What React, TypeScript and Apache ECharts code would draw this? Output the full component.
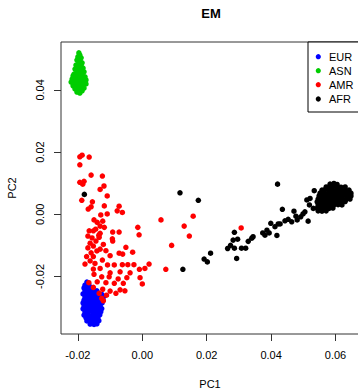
import React, { useEffect, useRef } from "react";
import * as echarts from "echarts";

const FONT = "'Liberation Sans', Arial, Helvetica, sans-serif";

const title = "EM";
const xName = "PC1";
const yName = "PC2";
const groups = ["EUR", "ASN", "AMR", "AFR"];
const colors = ["#0000FF", "#00CD00", "#FF0000", "#000000"];
const xTicks = [-0.02, 0, 0.02, 0.04, 0.06];
const yTicks = [-0.02, 0, 0.02, 0.04];

const eur: number[][] = [
  [-0.0172, -0.0218], [-0.0178, -0.0228], [-0.0166, -0.0226], [-0.0181, -0.0237], [-0.0169, -0.0238], [-0.0157, -0.0236],
  [-0.0178, -0.0247], [-0.0166, -0.0246], [-0.0153, -0.0248], [-0.0141, -0.0246], [-0.0184, -0.0256], [-0.0172, -0.0257],
  [-0.016, -0.0255], [-0.0147, -0.0257], [-0.0135, -0.0256], [-0.0125, -0.0258], [-0.0178, -0.0266], [-0.0166, -0.0267],
  [-0.0153, -0.0265], [-0.0141, -0.0266], [-0.0128, -0.0267], [-0.012, -0.0265], [-0.0181, -0.0276], [-0.0169, -0.0275],
  [-0.0156, -0.0277], [-0.0144, -0.0276], [-0.0131, -0.0275], [-0.0122, -0.0277], [-0.0184, -0.0285], [-0.0175, -0.0286],
  [-0.0162, -0.0285], [-0.015, -0.0284], [-0.0138, -0.0286], [-0.0125, -0.0285], [-0.0181, -0.0295], [-0.0169, -0.0294],
  [-0.0156, -0.0296], [-0.0144, -0.0295], [-0.0131, -0.0294], [-0.0184, -0.0304], [-0.0172, -0.0305], [-0.0159, -0.0303],
  [-0.0147, -0.0305], [-0.0135, -0.0304], [-0.0126, -0.0303], [-0.0178, -0.0314], [-0.0166, -0.0313], [-0.0153, -0.0315],
  [-0.0141, -0.0314], [-0.0129, -0.0313], [-0.0181, -0.0324], [-0.0169, -0.0323], [-0.0156, -0.0325], [-0.0144, -0.0324],
  [-0.0132, -0.0323], [-0.0175, -0.0333], [-0.0162, -0.0334], [-0.015, -0.0332], [-0.0138, -0.0333], [-0.0172, -0.0343],
  [-0.0159, -0.0342], [-0.0147, -0.0344], [-0.0135, -0.0342], [-0.0162, -0.0353], [-0.015, -0.0354], [-0.0141, -0.0352],
];

const asn: number[][] = [
  [-0.0197, 0.0519], [-0.0194, 0.0512], [-0.02, 0.0506], [-0.019, 0.0503], [-0.0203, 0.0496], [-0.0194, 0.0493],
  [-0.0197, 0.0487], [-0.0187, 0.0487], [-0.0206, 0.048], [-0.02, 0.0477], [-0.019, 0.0477], [-0.0184, 0.047],
  [-0.0209, 0.0467], [-0.0197, 0.0467], [-0.0203, 0.0461], [-0.0194, 0.0458], [-0.0181, 0.0458], [-0.0212, 0.0451],
  [-0.02, 0.0448], [-0.0187, 0.0448], [-0.0206, 0.0442], [-0.0194, 0.0438], [-0.0178, 0.0442], [-0.0218, 0.0435],
  [-0.0212, 0.0432], [-0.02, 0.0429], [-0.0187, 0.0432], [-0.0175, 0.0432], [-0.0221, 0.0425], [-0.0209, 0.0419],
  [-0.0197, 0.0422], [-0.0184, 0.0419], [-0.0175, 0.0419], [-0.0215, 0.0413], [-0.0203, 0.0409], [-0.019, 0.0409],
  [-0.0181, 0.0406], [-0.0209, 0.0403], [-0.0197, 0.04], [-0.0187, 0.0397], [-0.0203, 0.0393], [-0.0194, 0.039],
  [-0.0206, 0.0406], [-0.0184, 0.0438], [-0.0197, 0.0416], [-0.019, 0.0464], [-0.0203, 0.0474], [-0.0215, 0.0445],
  [-0.0181, 0.0425], [-0.0206, 0.0425], [-0.0192, 0.0451], [-0.02, 0.0455], [-0.0212, 0.0425], [-0.019, 0.0416],
];

const amr: number[][] = [
  [-0.0194, 0.0185], [-0.0187, 0.019], [-0.0165, 0.0184], [-0.0194, 0.0159], [-0.0159, 0.0126], [-0.0124, 0.0123],
  [-0.0194, 0.0103], [-0.0181, 0.0106], [-0.0185, 0.0097], [-0.0119, 0.0091], [-0.0131, 0.008], [-0.0109, 0.0059],
  [-0.0188, 0.0045], [-0.0155, 0.004], [-0.0118, 0.0027], [-0.0159, 0.0024], [-0.0168, 0.0017], [-0.0072, 0.0026],
  [-0.0078, 0.0011], [-0.0062, 0.0006], [-0.0129, -0.0002], [-0.0109, 0.0001], [0.0058, -0.0018], [-0.015, -0.0018],
  [-0.014, -0.0026], [-0.0123, -0.0022], [-0.0131, -0.0038], [-0.0118, -0.0042], [-0.0145, -0.0048], [-0.0165, -0.0053],
  [-0.0152, -0.0053], [-0.0092, -0.0057], [-0.0072, -0.0057], [-0.0014, -0.0042], [-0.001, -0.0066], [-0.0135, -0.0067],
  [-0.0093, -0.0079], [0.0091, -0.01], [-0.0051, -0.0106], [-0.003, -0.0122], [-0.0061, -0.0128], [-0.0131, -0.0061],
  [-0.0134, -0.0074], [-0.0092, -0.0086], [-0.0162, -0.0093], [-0.0152, -0.0102], [-0.0121, -0.0097], [-0.0113, -0.0117],
  [-0.0072, -0.0125], [-0.0173, -0.0136], [-0.0152, -0.0136], [-0.01, -0.0133], [-0.0124, -0.0147], [-0.0162, -0.015],
  [-0.0178, -0.016], [-0.0147, -0.0158], [-0.0108, -0.0163], [-0.0087, -0.0163], [-0.0062, -0.0162], [-0.0045, -0.0162],
  [-0.0026, -0.0162], [0.0021, -0.016], [0.0008, -0.0174], [-0.0009, -0.0177], [-0.0152, -0.0176], [-0.0131, -0.0174],
  [-0.01, -0.0188], [-0.0069, -0.0185], [-0.0038, -0.0188], [-0.015, -0.0193], [-0.0126, -0.0201], [-0.0103, -0.0201],
  [-0.0075, -0.0208], [-0.0048, -0.0204], [-0.0007, -0.0204], [-0.0166, -0.022], [-0.014, -0.0217], [-0.0113, -0.022],
  [-0.0087, -0.0222], [-0.0059, -0.0222], [0.0, -0.0224], [-0.0152, -0.0235], [-0.0123, -0.0241], [-0.01, -0.0247],
  [-0.0069, -0.0243], [-0.0134, -0.0254], [-0.0111, -0.026], [-0.0126, -0.027], [-0.0121, -0.0278], [0.0073, -0.0177],
  [-0.0054, -0.0246], [-0.0082, -0.0254], [0.0158, -0.0006], [0.013, -0.0038], [0.0146, -0.007], [0.0307, -0.0044],
  [-0.0169, -0.007], [-0.0156, -0.0076], [-0.0144, -0.0086], [-0.0169, -0.0108], [-0.0141, -0.0118], [-0.0159, -0.0124],
  [-0.0131, -0.0112],
];

const afr: number[][] = [
  [-0.018, 0.0064], [0.0117, 0.0069], [0.0174, 0.0045], [0.042, 0.0097], [0.0126, -0.0177], [0.0192, -0.0144],
  [0.0202, -0.0153], [0.0212, -0.0125], [0.0265, -0.011], [0.0274, -0.01], [0.0286, -0.0109], [0.0286, -0.0058],
  [0.0282, -0.0083], [0.0296, -0.008], [0.0308, -0.0109], [0.0321, -0.0109], [0.0293, -0.0142], [0.0329, -0.0087],
  [0.034, -0.0077], [0.0344, -0.0072], [0.0374, -0.006], [0.0381, -0.0067], [0.0387, -0.0051], [0.0394, -0.006],
  [0.0399, -0.0029], [0.0412, -0.004], [0.0422, -0.0031], [0.0418, -0.0068], [0.0435, 0.0016], [0.0471, 0.001],
  [0.0428, -0.0031], [0.0443, -0.0021], [0.0453, -0.0016], [0.0464, -0.0024], [0.0481, -0.0018], [0.0492, -0.0008],
  [0.0515, -0.0022], [0.0505, 0.0008], [0.0511, 0.0046], [0.0521, 0.0051], [0.0519, 0.003], [0.0531, 0.0019],
  [0.0534, 0.0076], [0.0499, 0.0001], [0.0477, -0.0006],
  [0.0583, 0.0097], [0.0595, 0.0099], [0.0605, 0.0096],
  [0.0571, 0.0088], [0.058, 0.0087], [0.0592, 0.0089], [0.0605, 0.0088], [0.0617, 0.0087], [0.063, 0.0088],
  [0.0558, 0.0078], [0.0567, 0.0079], [0.058, 0.0077], [0.0592, 0.0078], [0.0605, 0.0079], [0.0617, 0.0078], [0.063, 0.0077], [0.0642, 0.0078],
  [0.0552, 0.0068], [0.0564, 0.0069], [0.0577, 0.0068], [0.0589, 0.0067], [0.0602, 0.0068], [0.0614, 0.0069], [0.0626, 0.0068], [0.0639, 0.0067], [0.0648, 0.0068],
  [0.0549, 0.0059], [0.0561, 0.0058], [0.0574, 0.0059], [0.0586, 0.006], [0.0598, 0.0059], [0.0611, 0.0058], [0.0623, 0.0059], [0.0636, 0.006], [0.0648, 0.0059],
  [0.0546, 0.0049], [0.0558, 0.005], [0.0571, 0.0049], [0.0583, 0.0048], [0.0595, 0.0049], [0.0608, 0.005], [0.062, 0.0049], [0.0633, 0.0048], [0.0645, 0.0049],
  [0.0543, 0.004], [0.0555, 0.0039], [0.0567, 0.004], [0.058, 0.0041], [0.0592, 0.004], [0.0605, 0.0039], [0.0617, 0.004], [0.063, 0.0041],
  [0.0546, 0.003], [0.0558, 0.0031], [0.0571, 0.003], [0.0583, 0.0029], [0.0595, 0.003], [0.0608, 0.0031], [0.062, 0.003],
  [0.0543, 0.002], [0.0555, 0.0021], [0.0567, 0.002], [0.058, 0.0019], [0.0592, 0.002],
  [0.0546, 0.0011], [0.0558, 0.001], [0.0571, 0.0011],
];

const seriesData = [eur, asn, amr, afr];

export default function App() {
  const ref = useRef<HTMLDivElement>(null);
  useEffect(() => {
    if (!ref.current) return;
    const chart = echarts.init(ref.current, null, { renderer: "svg" });
    const legendY = [56.7, 70.7, 84.7, 99];
    const legendEls: any[] = [
      { type: "rect", shape: { x: 308, y: 42, width: 60, height: 70 }, style: { fill: "#fff", stroke: "#000", lineWidth: 1 }, z: 10 },
    ];
    groups.forEach((g, i) => {
      legendEls.push({ type: "circle", shape: { cx: 318.3, cy: legendY[i], r: 2.6 }, style: { fill: colors[i] }, z: 11 });
      legendEls.push({
        type: "text", x: 329, y: legendY[i], z: 11,
        style: { text: g, font: `11px ${FONT}`, fill: "#000", textAlign: "left", textVerticalAlign: "middle" },
      });
    });
    chart.setOption({
      animation: false,
      backgroundColor: "#fff",
      grid: { left: 61, right: 0, top: 42, bottom: 56, show: true, borderColor: "#333", borderWidth: 1 },
      xAxis: {
        type: "value", min: -0.02525, max: 0.06854, position: "bottom",
        splitLine: { show: false },
        axisLine: { show: false, onZero: false },
        axisTick: { show: true, customValues: xTicks, length: 7, lineStyle: { color: "#333" } },
        axisLabel: { customValues: xTicks, formatter: (v: number) => v.toFixed(2), margin: 15, fontSize: 11, color: "#000", fontFamily: FONT },
      },
      yAxis: {
        type: "value", min: -0.03849, max: 0.0554, position: "left",
        splitLine: { show: false },
        axisLine: { show: false, onZero: false },
        axisTick: { show: true, customValues: yTicks, length: 7, lineStyle: { color: "#333" } },
        axisLabel: { customValues: yTicks, rotate: 90, formatter: (v: number) => v.toFixed(2), margin: 16, fontSize: 11, color: "#000", fontFamily: FONT },
      },
      series: seriesData.map((d, i) => ({
        type: "scatter", name: groups[i], data: d, symbol: "circle", symbolSize: 5.5,
        itemStyle: { color: colors[i], opacity: 1 }, silent: true,
      })),
      graphic: [
        { type: "text", x: 211, y: 13, style: { text: title, font: `bold 13px ${FONT}`, fill: "#000", textAlign: "center", textVerticalAlign: "middle" } },
        { type: "text", x: 210, y: 384, style: { text: xName, font: `11px ${FONT}`, fill: "#000", textAlign: "center", textVerticalAlign: "middle" } },
        { type: "text", x: 12, y: 188, rotation: Math.PI / 2, style: { text: yName, font: `11px ${FONT}`, fill: "#000", textAlign: "center", textVerticalAlign: "middle" } },
        ...legendEls,
      ],
    });
    return () => chart.dispose();
  }, []);
  return (
    <div style={{ position: "fixed", left: 0, top: 0, width: 358, height: 390, overflow: "hidden", background: "#fff" }}>
      <div ref={ref} style={{ width: 363, height: 390 }} />
    </div>
  );
}
